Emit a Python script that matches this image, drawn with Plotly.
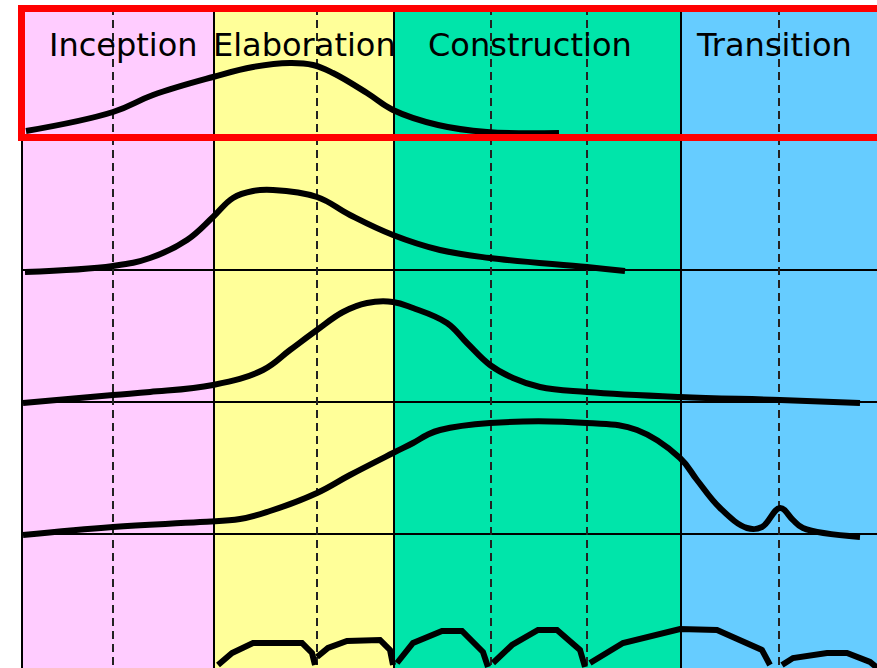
"""
Iterative development phases chart (hump chart) rebuilt with Plotly.
"""

import plotly.graph_objects as go

# x is project time, y is effort; one unit = one screen pixel
PHASES = ["Inception", "Elaboration", "Construction", "Transition"]
PHASE_EDGES = [22, 214, 394, 681, 890]
PHASE_COLORS = ["#FFCCFF", "#FFFF99", "#00E5AA", "#66CCFF"]
ITERATION_LINES = [113, 317, 491, 587, 779]

# baseline of each discipline row (effort axis)
ROW_BASES = [531, 398, 266, 134, 0]

# discipline curves: time and effort above their row baseline
ROW1_X = [26, 113, 153, 213, 253, 290, 313, 333, 367, 393, 438, 487, 559]
ROW1_Y = [6, 25, 42, 60, 70, 74, 72, 64, 44, 27, 12, 5, 4]

ROW2_X = [25, 113, 150, 187, 213, 233, 253, 273, 317, 350, 393, 440, 490, 587, 625]
ROW2_Y = [-2, 4, 12, 30, 53, 72, 79, 80, 73, 55, 35, 20, 12, 3, -1]

ROW3_X = [23, 113, 150, 213, 263, 290, 317, 343, 367, 393, 413, 447, 467,
          490, 513, 540, 587, 680, 780, 860]
ROW3_Y = [-1, 7, 10, 17, 32, 52, 72, 90, 99, 100, 94, 79, 59,
          37, 24, 15, 10, 5, 2, -1]

ROW4_X = [23, 113, 200, 240, 270, 317, 350, 393, 413, 427, 440, 490, 587, 637,
          680, 697, 720, 747, 762, 780, 793, 803, 860]
ROW4_Y = [-1, 7, 12, 15, 23, 41, 59, 81, 91, 99, 104, 111, 111, 104,
          76, 54, 26, 6, 7, 26, 14, 6, -3]

# bottom row: one hump per iteration
HUMPS_X = [
    [218, 232, 253, 302, 312, 315],
    [317, 328, 347, 380, 390, 393],
    [397, 413, 442, 462, 483, 488],
    [493, 512, 538, 557, 580, 585],
    [590, 623, 680, 717, 762, 770],
    [782, 793, 827, 847, 870, 880],
]
HUMPS_Y = [
    [3, 15, 25, 25, 15, 3],
    [11, 20, 27, 28, 18, 3],
    [5, 25, 37, 37, 16, 1],
    [5, 23, 38, 38, 18, 1],
    [5, 25, 39, 38, 18, 3],
    [3, 10, 15, 15, 6, -2],
]

LABEL_Y = 623
TOP = 660

fig = go.Figure()

# smooth discipline curves
curves = [(ROW1_X, ROW1_Y), (ROW2_X, ROW2_Y), (ROW3_X, ROW3_Y), (ROW4_X, ROW4_Y)]
for (xs, ys), base in zip(curves, ROW_BASES):
    fig.add_trace(go.Scatter(
        x=xs,
        y=[base + v for v in ys],
        mode="lines",
        line=dict(color="black", width=6, shape="spline", smoothing=1.15),
        hoverinfo="skip",
    ))

# iteration humps (straight segments, gaps between humps)
hx, hy = [], []
for xs, ys in zip(HUMPS_X, HUMPS_Y):
    hx += xs + [None]
    hy += [ROW_BASES[4] + v for v in ys] + [None]
fig.add_trace(go.Scatter(
    x=hx, y=hy, mode="lines", connectgaps=False,
    line=dict(color="black", width=6),
    hoverinfo="skip",
))

shapes = []
# phase background bands and boundaries
for i, color in enumerate(PHASE_COLORS):
    shapes.append(dict(
        type="rect", xref="x", yref="y", layer="below",
        x0=PHASE_EDGES[i], x1=PHASE_EDGES[i + 1], y0=-10, y1=TOP,
        fillcolor=color, line=dict(width=0),
    ))
for xe in PHASE_EDGES[1:-1]:
    shapes.append(dict(
        type="line", xref="x", yref="y", layer="below",
        x0=xe, x1=xe, y0=-10, y1=TOP,
        line=dict(color="black", width=2),
    ))
shapes.append(dict(
    type="line", xref="x", yref="y", layer="below",
    x0=PHASE_EDGES[0], x1=PHASE_EDGES[0], y0=-10, y1=ROW_BASES[0],
    line=dict(color="black", width=2),
))
# row separators
for base in ROW_BASES[1:4]:
    shapes.append(dict(
        type="line", xref="x", yref="y", layer="below",
        x0=PHASE_EDGES[0], x1=PHASE_EDGES[-1], y0=base, y1=base,
        line=dict(color="black", width=2),
    ))
# iteration markers
for xi in ITERATION_LINES:
    shapes.append(dict(
        type="line", xref="x", yref="y", layer="below",
        x0=xi, x1=xi, y0=-10, y1=TOP,
        line=dict(color="#222222", width=2, dash="8px,5px"),
    ))
# red highlight box round the first row
shapes.append(dict(
    type="rect", xref="x", yref="y", layer="above",
    x0=21.5, x1=900, y0=ROW_BASES[0] - 0.5, y1=TOP - 0.5,
    line=dict(color="#FF0000", width=7), fillcolor="rgba(0,0,0,0)",
))

annotations = []
for i, name in enumerate(PHASES):
    annotations.append(dict(
        x=(PHASE_EDGES[i] + min(PHASE_EDGES[i + 1], 877)) / 2 + [5, 0, -8, -5][i],
        y=LABEL_Y, xref="x", yref="y",
        text=name, showarrow=False,
        font=dict(family="DejaVu Sans", size=32, color="black"),
        xanchor="center", yanchor="middle",
    ))

fig.update_layout(
    width=877,
    height=668,
    margin=dict(l=0, r=0, t=0, b=0),
    plot_bgcolor="white",
    paper_bgcolor="white",
    showlegend=False,
    shapes=shapes,
    annotations=annotations,
    xaxis=dict(range=[0, 877], visible=False, fixedrange=True),
    yaxis=dict(range=[0, 668], visible=False, fixedrange=True),
)

fig.write_html(
    "out.html",
    config={"displayModeBar": False},
    post_script="document.body.style.margin = '0';",
)
